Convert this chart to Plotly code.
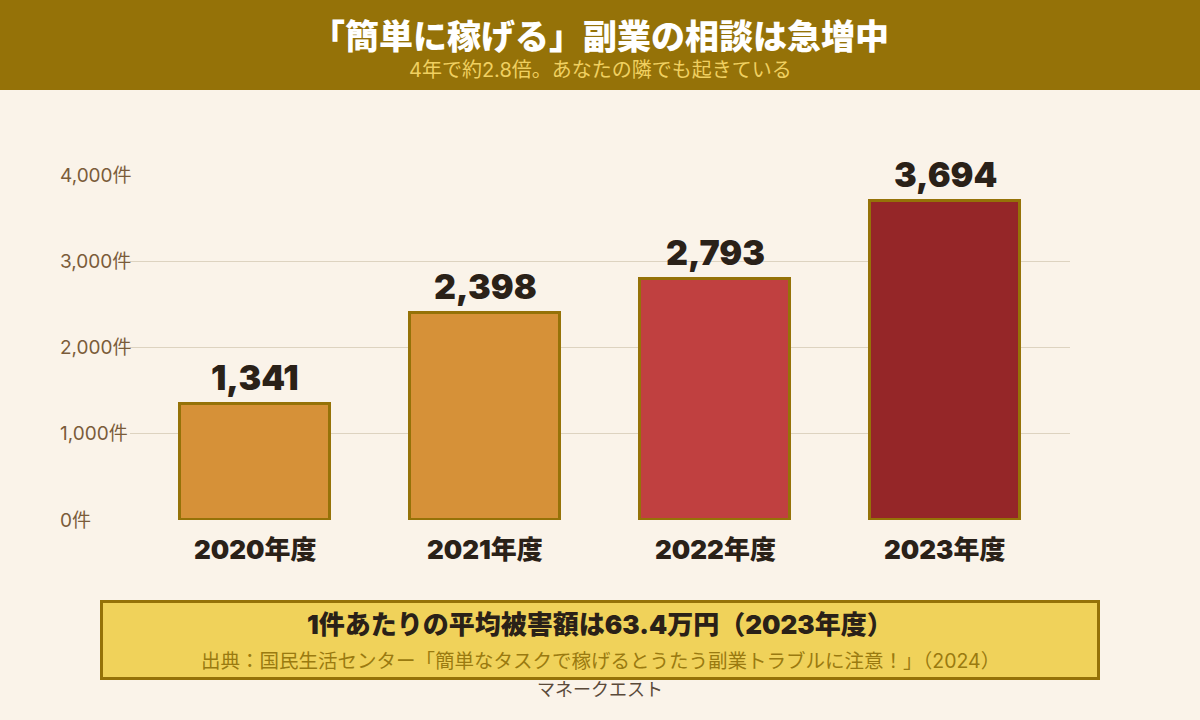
import plotly.graph_objects as go

# ---- data ----
years = ["2020年度", "2021年度", "2022年度", "2023年度"]
counts = [1341, 2398, 2793, 3694]
bar_colors = ["#D69138", "#D69138", "#C04040", "#952628"]
y_ticks = [0, 1000, 2000, 3000, 4000]
y_tick_labels = ["0件", "1,000件", "2,000件", "3,000件", "4,000件"]

title = "「簡単に稼げる」副業の相談は急増中"
subtitle = "4年で約2.8倍。あなたの隣でも起きている"
note_main = "1件あたりの平均被害額は63.4万円（2023年度）"
note_src = "出典：国民生活センター「簡単なタスクで稼げるとうたう副業トラブルに注意！」（2024）"
brand = "マネークエスト"

W, H = 1200, 720
L, R, T, B = 130, 130, 175, 200
PW, PH = W - L - R, H - T - B

def px(x):
    return (x - L) / PW

def py(y):
    return (H - B - y) / PH

FONT = "Inter, 'Noto Sans CJK JP', sans-serif"
CX = 0.5 * (px(0) + px(W))

fig = go.Figure()
fig.add_trace(go.Bar(
    x=list(range(len(years))), y=counts,
    marker=dict(color=bar_colors, line=dict(color="#957208", width=3)),
    width=0.652, hoverinfo="skip",
))

annotations = []
for i, v in enumerate(counts):
    annotations.append(dict(x=i, y=v, xref="x", yref="y", text=f"{v:,}",
                            showarrow=False, yanchor="bottom", yshift=4,
                            font=dict(family=FONT, size=34, color="#2A2118", weight=900)))
for i, lab in enumerate(years):
    annotations.append(dict(x=i, y=py(549), xref="x", yref="paper", text=lab,
                            showarrow=False, yanchor="middle",
                            font=dict(family=FONT, size=26, color="#2A2118", weight=900)))
for t, lab in zip(y_ticks, y_tick_labels):
    annotations.append(dict(x=px(58), y=t, xref="paper", yref="y", text=lab,
                            showarrow=False, xanchor="left", yanchor="middle",
                            font=dict(family=FONT, size=19, color="#7A5C3A")))

annotations += [
    dict(x=CX, y=py(36), xref="paper", yref="paper", text=title,
         showarrow=False, yanchor="middle",
         font=dict(family=FONT, size=34, color="#FFFFFF", weight=900)),
    dict(x=CX, y=py(70), xref="paper", yref="paper", text=subtitle,
         showarrow=False, yanchor="middle",
         font=dict(family=FONT, size=20, color="#F0D060")),
    dict(x=CX, y=py(624), xref="paper", yref="paper", text=note_main,
         showarrow=False, yanchor="middle",
         font=dict(family=FONT, size=26, color="#2A2118", weight=900)),
    dict(x=CX, y=py(661), xref="paper", yref="paper", text=note_src,
         showarrow=False, yanchor="middle",
         font=dict(family=FONT, size=19.5, color="#9A7A10")),
    dict(x=CX, y=py(689), xref="paper", yref="paper", text=brand,
         showarrow=False, yanchor="middle",
         font=dict(family=FONT, size=18, color="#5A4A3A")),
]

shapes = [
    dict(type="rect", xref="paper", yref="paper", x0=px(0), x1=px(W), y0=py(0), y1=py(90),
         fillcolor="#957208", line=dict(width=0), layer="below"),
    dict(type="rect", xref="paper", yref="paper", x0=px(101.5), x1=px(1098.5), y0=py(601.5), y1=py(678.5),
         fillcolor="#F0D25A", line=dict(color="#957208", width=3), layer="above"),
]

fig.update_layout(
    width=W, height=H,
    margin=dict(l=L, r=R, t=T, b=B),
    paper_bgcolor="#FAF3E9", plot_bgcolor="#FAF3E9",
    showlegend=False,
    bargap=0,
    xaxis=dict(range=[-0.5435, 3.5435], showticklabels=False, showgrid=False,
               zeroline=False, ticks="", fixedrange=True),
    yaxis=dict(range=[0, 4000], tickvals=y_ticks, showticklabels=False,
               showgrid=True, gridcolor="#DDD3C0", gridwidth=1,
               zeroline=False, fixedrange=True),
    annotations=annotations,
    shapes=shapes,
)

fig.write_html("out.html", config={"displayModeBar": False})
